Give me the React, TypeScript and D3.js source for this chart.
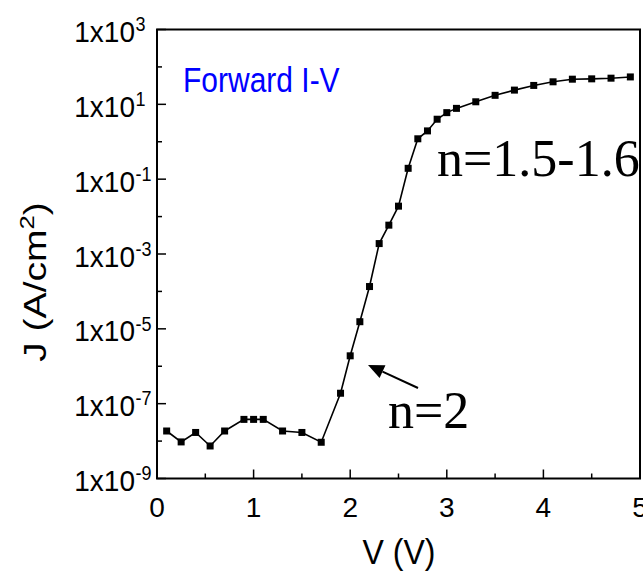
import React from "react";
import * as d3 from "d3";

const voltage = [0.1, 0.25, 0.4, 0.55, 0.7, 0.9, 1.0, 1.1, 1.3, 1.5, 1.7, 1.9, 2.0, 2.1, 2.2, 2.3, 2.4, 2.5, 2.6, 2.7, 2.8, 2.9, 3.0, 3.1, 3.3, 3.5, 3.7, 3.9, 4.1, 4.3, 4.5, 4.7, 4.9];
const currentDensity = [1.86e-8, 9.5e-9, 1.7e-8, 7.4e-9, 1.86e-8, 3.8e-8, 3.8e-8, 3.8e-8, 1.86e-8, 1.7e-8, 9.3e-9, 1.9e-7, 1.9e-6, 1.55e-5, 1.35e-4, 1.9e-3, 5.9e-3, 1.9e-2, 0.195, 1.2, 1.95, 4.0, 6.0, 7.8, 11.7, 17.4, 24, 32, 40, 47, 48, 50, 54];
const xTicks = [0, 1, 2, 3, 4, 5];
const xMinorTicks = [0.5, 1.5, 2.5, 3.5, 4.5];
const yLabelExponents = [3, 1, -1, -3, -5, -7, -9];
const yMinorExponents = [2, 0, -2, -4, -6, -8];

const W = 643;
const H = 573;
const left = 157;
const right = 640;
const top = 29.5;
const bottom = 478.5;

export default function App() {
  const x = d3.scaleLinear().domain([0, 5]).range([left, right]);
  const y = d3.scaleLog().domain([1e-9, 1e3]).range([bottom, top]);
  const pts = voltage.map((v, i) => [v, currentDensity[i]] as [number, number]);
  const line = d3.line<[number, number]>().x((d) => x(d[0])).y((d) => y(d[1]));
  const sans = "'Liberation Sans', Arial, sans-serif";
  const serif = "'Liberation Serif', 'Times New Roman', serif";
  const ms = 7;

  // arrow
  const ax1 = 418, ay1 = 388, ax2 = 368, ay2 = 365;
  const ang = Math.atan2(ay2 - ay1, ax2 - ax1);
  const headLen = 16, headW = 7;
  const bx = ax2 - headLen * Math.cos(ang);
  const by = ay2 - headLen * Math.sin(ang);
  const px = -Math.sin(ang) * headW;
  const py = Math.cos(ang) * headW;

  return (
    <svg width={W} height={H} style={{ position: "absolute", left: 0, top: 0, background: "#fff" }}>
      <rect x={0} y={0} width={W} height={H} fill="#fff" />
      {/* ticks */}
      {xTicks.map((t) => (
        <line key={"xt" + t} x1={x(t)} x2={x(t)} y1={bottom} y2={bottom - 9} stroke="#000" strokeWidth={1.5} />
      ))}
      {xMinorTicks.map((t) => (
        <line key={"xm" + t} x1={x(t)} x2={x(t)} y1={bottom} y2={bottom - 5} stroke="#000" strokeWidth={1.5} />
      ))}
      {yLabelExponents.map((e) => (
        <line key={"yt" + e} x1={left} x2={left + 9} y1={y(Math.pow(10, e))} y2={y(Math.pow(10, e))} stroke="#000" strokeWidth={1.5} />
      ))}
      {yMinorExponents.map((e) => (
        <line key={"ym" + e} x1={left} x2={left + 5} y1={y(Math.pow(10, e))} y2={y(Math.pow(10, e))} stroke="#000" strokeWidth={1.5} />
      ))}
      {/* frame */}
      <rect x={left} y={top} width={right - left} height={bottom - top} fill="none" stroke="#000" strokeWidth={2} />
      {/* x tick labels */}
      {xTicks.map((t) => (
        <text key={"xl" + t} x={x(t)} y={517} textAnchor="middle" fontFamily={sans} fontSize={28} fill="#000">
          {t}
        </text>
      ))}
      {/* y tick labels */}
      {yLabelExponents.map((e) => (
        <g key={"yl" + e} transform={`translate(0,${y(Math.pow(10, e)) + 12.5}) scale(1,1.08)`}>
          <text x={135} y={0} textAnchor="end" fontFamily={sans} fontSize={28} fill="#000">
            1x10
          </text>
          <text x={135.5} y={-10} textAnchor="start" fontFamily={sans} fontSize={18} fill="#000">
            {e < 0 ? "-" + Math.abs(e) : String(e)}
          </text>
        </g>
      ))}
      {/* axis titles */}
      <text transform="translate(399,564) scale(1,1.08)" textAnchor="middle" fontFamily={sans} fontSize={32} fill="#000">
        V (V)
      </text>
      <text transform="translate(46,282) rotate(-90) scale(1.22,1)" textAnchor="middle" fontFamily={sans} fontSize={32} fill="#000">
        J (A/cm<tspan dy={-12} fontSize={21}>2</tspan><tspan dy={12}>)</tspan>
      </text>
      {/* data */}
      <path d={line(pts) || ""} fill="none" stroke="#000" strokeWidth={1.6} />
      {pts.map((d, i) => (
        <rect key={"p" + i} x={x(d[0]) - ms / 2} y={y(d[1]) - ms / 2} width={ms} height={ms} fill="#000" />
      ))}
      {/* annotations */}
      <text transform="translate(183,92) scale(1,1.15)" fontFamily={sans} fontSize={30} fill="#0000ff">
        Forward I-V
      </text>
      <text x={437} y={176} fontFamily={serif} fontSize={52} fill="#000">
        n=1.5-1.6
      </text>
      <text x={388} y={428} fontFamily={serif} fontSize={52} fill="#000">
        n=2
      </text>
      <line x1={ax1} y1={ay1} x2={bx} y2={by} stroke="#000" strokeWidth={2} />
      <polygon points={`${ax2},${ay2} ${bx + px},${by + py} ${bx - px},${by - py}`} fill="#000" />
    </svg>
  );
}
